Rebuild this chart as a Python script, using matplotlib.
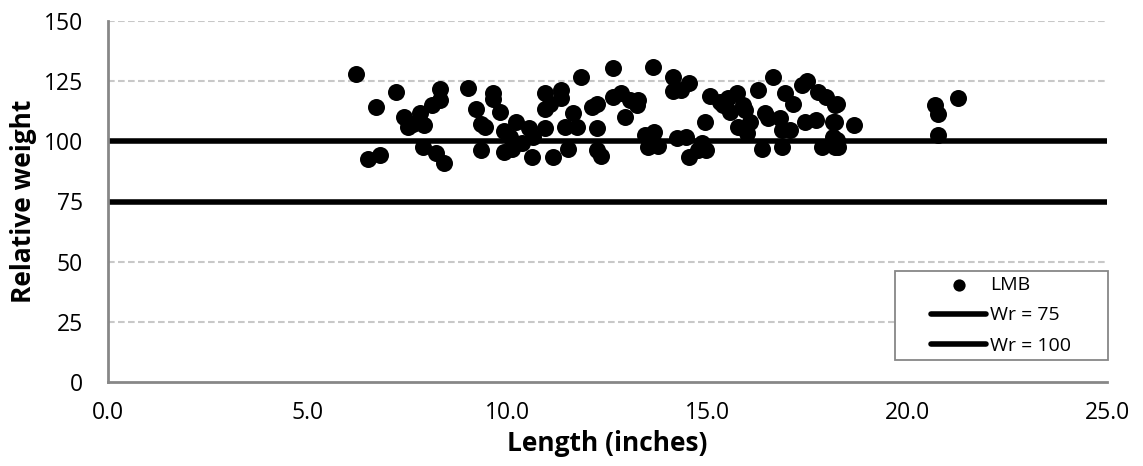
import matplotlib
matplotlib.use("Agg")
import matplotlib.pyplot as plt
from matplotlib.patches import Rectangle

plt.rcParams['font.family'] = ['Open Sans', 'DejaVu Sans']

length_in = [6.21, 6.71, 6.50, 6.81, 7.21, 7.41, 7.52, 7.64, 7.81, 7.92, 7.89, 8.10, 8.31, 8.31,
             8.22, 8.42, 9.02, 9.22, 9.33, 9.43, 9.33, 9.63, 9.63, 9.82, 9.92, 10.06, 9.91, 10.10,
             10.22, 10.35, 10.54, 10.64, 10.62, 10.94, 10.94, 11.06, 10.94, 11.13, 11.33, 11.33,
             11.44, 11.63, 11.73, 11.52, 11.83,
             12.23, 12.10, 12.23, 12.23, 12.34, 12.63, 12.65, 12.85, 12.94, 13.06, 13.27, 13.25,
             13.65, 13.44, 13.66, 13.52, 13.77, 14.15, 14.15, 14.35, 14.55, 14.23, 14.46, 14.55,
             14.77, 14.86, 14.96, 14.94, 15.07, 15.32, 15.40, 15.52, 15.57, 15.73, 15.90, 15.94,
             15.77, 16.07, 15.98, 16.26, 16.36, 16.65, 16.44, 16.52, 16.82, 16.86, 17.07, 16.86,
             16.94, 17.15, 17.36, 17.48, 17.44, 17.73, 17.77, 17.98, 18.19, 18.15, 18.15, 17.86,
             18.19, 18.24, 18.19, 18.24, 18.28, 18.67, 20.70, 20.78, 20.78, 21.28]
rel_weight = [128.0, 114.4, 92.6, 94.3, 120.6, 110.2, 105.8, 107.2, 111.9, 106.8, 97.8, 115.1, 117.2, 121.6,
              95.0, 90.9, 122.0, 113.4, 107.2, 105.8, 96.4, 120.2, 117.4, 112.2, 104.4, 101.7, 95.7, 97.0,
              108.1, 99.1, 105.4, 101.9, 93.6, 119.9, 113.3, 115.7, 105.4, 93.6, 121.3, 117.8,
              106.1, 111.6, 106.1, 97.0, 126.8,
              115.7, 114.4, 105.4, 96.4, 93.9, 130.3, 118.5, 120.2, 110.2, 117.3, 117.3, 115.1,
              131.0, 102.6, 104.0, 97.8, 98.0, 126.8, 121.0, 121.3, 124.4, 101.2, 101.7, 93.3,
              96.4, 99.1, 96.4, 108.1, 118.9, 116.5, 115.1, 117.8, 112.3, 119.9, 115.1, 113.0,
              106.1, 108.1, 103.3, 121.3, 97.0, 126.8, 111.6, 109.5, 109.5, 104.7, 104.7, 97.5,
              119.9, 115.7, 123.4, 125.2, 108.1, 108.8, 120.6, 118.5, 115.1, 108.1, 101.9, 97.8,
              97.8, 115.7, 108.1, 100.5, 97.8, 106.8, 115.1, 111.3, 102.6, 118.1]

wr_x = [0, 25]
wr75 = [75, 75]
wr100 = [100, 100]

x_ticks = [0, 5, 10, 15, 20, 25]
y_ticks = [0, 25, 50, 75, 100, 125, 150]

W, H = 1143, 466
fig = plt.figure(figsize=(W / 100, H / 100), dpi=100)
ax = fig.add_axes([108 / W, 1 - 382 / H, (1107 - 108) / W, (382 - 21) / H])

ax.set_xlim(0, 25)
ax.set_ylim(0, 150)
ax.set_xticks(x_ticks)
ax.set_xticklabels([f"{v:.1f}" for v in x_ticks])
ax.set_yticks(y_ticks)
ax.set_yticklabels([str(v) for v in y_ticks])

for v in y_ticks[1:]:
    ax.axhline(v, color='#c8c8c8', lw=1.5, ls=(0, (3.2, 1.6)), zorder=0)

ax.scatter(length_in, rel_weight, s=150, color='black', zorder=3, label='LMB', linewidths=0)
ax.plot(wr_x, wr75, color='black', lw=4.0, solid_capstyle='round', label='Wr = 75', zorder=2)
ax.plot(wr_x, wr100, color='black', lw=4.0, solid_capstyle='round', label='Wr = 100', zorder=2)

for s in ['top', 'right']:
    ax.spines[s].set_visible(False)
for s in ['left', 'bottom']:
    ax.spines[s].set_color('#878787')
    ax.spines[s].set_linewidth(2.0)
ax.tick_params(length=0, labelsize=16.5, colors='#000000')
ax.tick_params(axis='x', pad=14)
ax.tick_params(axis='y', pad=18)

ax.set_xlabel('Length (inches)', fontsize=19, fontweight='bold', labelpad=3)
ax.set_ylabel('Relative weight', fontsize=19, fontweight='bold', labelpad=5)

# legend frame (drawn manually to match the wide box)
frame = Rectangle((895 / W, 1 - 360 / H), (1108 - 895) / W, (360 - 271) / H,
                  transform=fig.transFigure, facecolor='white',
                  edgecolor='#878787', lw=1.3, zorder=4, clip_on=False)
ax.add_patch(frame)
leg = ax.legend(loc='center', bbox_to_anchor=(1001 / W, 1 - 315.5 / H),
                bbox_transform=fig.transFigure, borderaxespad=0, fontsize=14,
                frameon=False, handlelength=2.8, handletextpad=0.2,
                labelspacing=0.62, borderpad=0.2, markerscale=0.72)
leg.set_zorder(6)

fig.savefig('out.png', dpi=100, facecolor='white')
